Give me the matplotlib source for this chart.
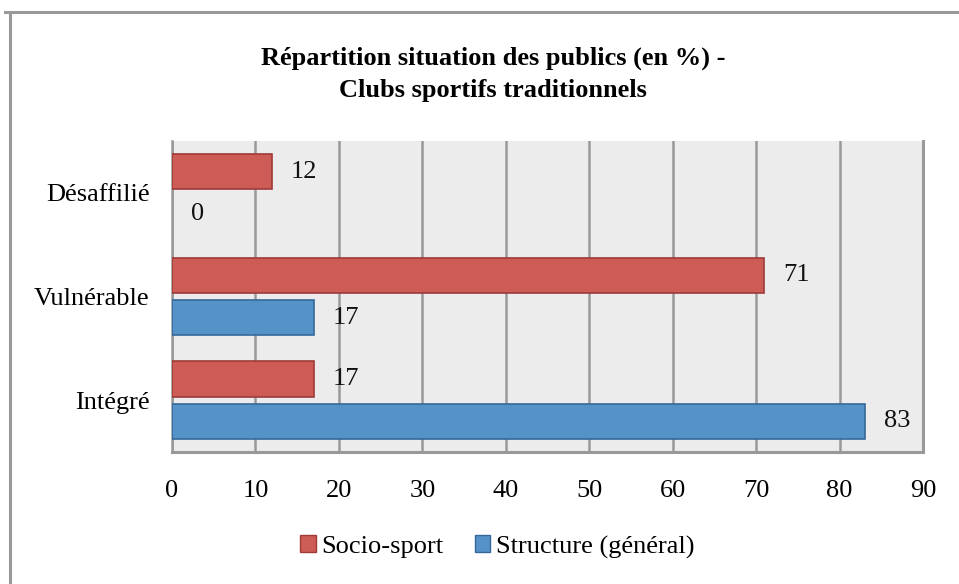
import matplotlib
matplotlib.use("Agg")
import matplotlib.pyplot as plt
import numpy as np
from matplotlib.patches import Rectangle
from matplotlib.lines import Line2D

categories = ["Intégré", "Vulnérable", "Désaffilié"]
socio_sport = [17, 71, 12]
structure = [83, 17, 0]
series_names = ["Socio-sport", "Structure (général)"]
x_ticks = [0, 10, 20, 30, 40, 50, 60, 70, 80, 90]
title = "Répartition situation des publics (en %) -\nClubs sportifs traditionnels"

plt.rcParams['font.family'] = ['Liberation Serif', 'DejaVu Serif']

fig = plt.figure(figsize=(9.59, 5.84), dpi=100)
W, H = 959, 584
ax = fig.add_axes([172 / W, 1 - 452 / H, (923 - 172) / W, (452 - 141) / H])

red, red_edge = "#CD5C57", "#9E3B37"
blue, blue_edge = "#5592C8", "#35689A"

FS = 19

y = np.arange(len(categories))
h = 0.34
off = 0.205
ax.barh(y + off, socio_sport, height=h, color=red, edgecolor=red_edge,
        linewidth=[1.2 if v > 0 else 0 for v in socio_sport], zorder=3)
ax.barh(y - off, structure, height=h, color=blue, edgecolor=blue_edge,
        linewidth=[1.2 if v > 0 else 0 for v in structure], zorder=3)

for yi, v in zip(y, socio_sport):
    ax.annotate(str(v), (v, yi + off), xytext=(19, 0), textcoords="offset pixels",
                ha="left", va="center", fontsize=FS, color="#111111")
for yi, v in zip(y, structure):
    ax.annotate(str(v), (v, yi - off), xytext=(19, 0), textcoords="offset pixels",
                ha="left", va="center", fontsize=FS, color="#111111")

ax.set_xlim(0, 90)
ax.set_ylim(-0.5, 2.5)
ax.set_facecolor("#ECECEC")
ax.set_xticks(x_ticks)
ax.set_xticklabels([str(t) for t in x_ticks])
ax.set_yticks(y)
ax.set_yticklabels(categories)
ax.tick_params(axis="x", length=0, pad=20, labelsize=FS)
ax.tick_params(axis="y", length=0, pad=16, labelsize=FS)
ax.grid(axis="x", color="#999999", linewidth=1.8, zorder=1)
ax.set_axisbelow(True)
for s in ["left"]:
    ax.spines[s].set_color("#999999")
    ax.spines[s].set_linewidth(1.8)
for s in ["right", "bottom"]:
    ax.spines[s].set_color("#999999")
    ax.spines[s].set_linewidth(2.2)
ax.spines["top"].set_visible(False)

fig.text(493 / W, 1 - 74 / H, title, ha="center", va="center", fontsize=19,
         fontweight="bold", linespacing=1.5)

# outer frame
fig.add_artist(Line2D([5 / W, 1.0], [1 - 12 / H, 1 - 12 / H], color="#999999", linewidth=2.2))
fig.add_artist(Line2D([10 / W, 10 / W], [0, 1 - 12 / H], color="#999999", linewidth=2.2))

handles = [Rectangle((0, 0), 1, 1, facecolor=red, edgecolor=red_edge),
           Rectangle((0, 0), 1, 1, facecolor=blue, edgecolor=blue_edge)]
fig.legend(handles, series_names, loc="center", bbox_to_anchor=(497 / W, 1 - 547 / H),
           ncol=2, frameon=False, fontsize=FS, handlelength=0.6, handleheight=0.6,
           handletextpad=0.2, columnspacing=1.2)

fig.savefig("out.png", dpi=100)
